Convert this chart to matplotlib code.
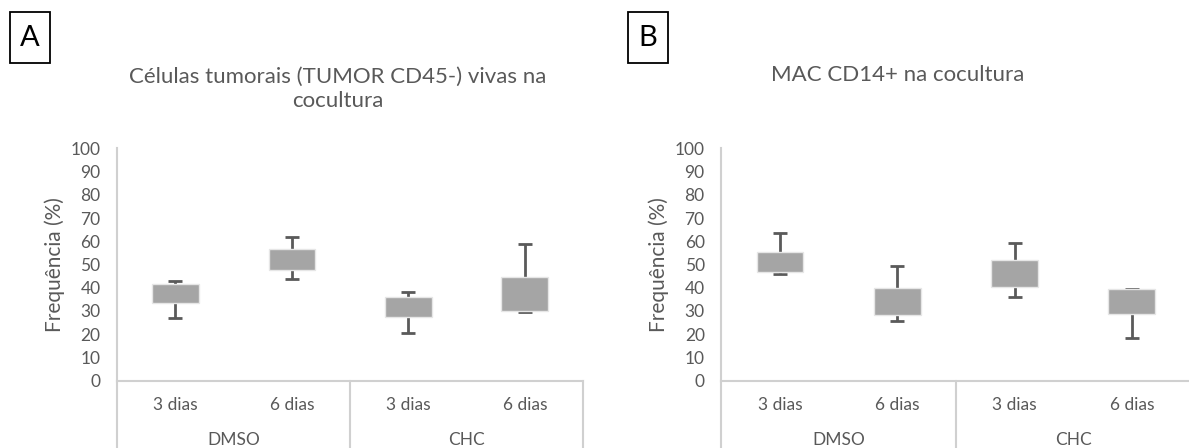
import matplotlib.pyplot as plt
from matplotlib.patches import Rectangle
from matplotlib.transforms import blended_transform_factory
import numpy as np

plt.rcParams['font.family'] = ['Lato', 'DejaVu Sans']

days = ["3 dias", "6 dias", "3 dias", "6 dias"]
groups = ["DMSO", "CHC"]

# panel A - tumour cells (CD45-)
a_q1 = [33.4, 47.6, 27.3, 30.1]
a_q3 = [41.5, 56.5, 35.9, 44.5]
a_min = [27.1, 43.6, 20.4, 29.6]
a_max = [42.8, 61.7, 38.2, 58.7]

# panel B - macrophages CD14+
b_q1 = [46.6, 28.1, 40.3, 28.6]
b_q3 = [55.3, 39.8, 51.9, 39.3]
b_min = [46.0, 25.8, 36.0, 18.2]
b_max = [63.4, 49.4, 59.1, 39.5]

W, H = 1189, 448
TXT = '#595959'
LINE = '#D0D0D0'

fig = plt.figure(figsize=(W / 100, H / 100), dpi=100)


def panel(left_px, width_px, q1, q3, lo, hi, title, title_x, title_y, letter, letter_x):
    ax = fig.add_axes([left_px / W, (H - 380.7) / H, width_px / W, 232.4 / H])
    x = np.arange(len(days))
    q1 = np.array(q1); q3 = np.array(q3)
    lo = np.array(lo); hi = np.array(hi)
    mid = (lo + hi) / 2
    # whiskers sit behind the box so only the parts outside it show
    ax.errorbar(x, mid, yerr=[mid - lo, hi - mid], fmt='none', ecolor='#5a5a5a',
                elinewidth=2, capsize=5, capthick=2, zorder=1)
    ax.bar(x, q3 - q1, bottom=q1, width=0.4, color='#A5A5A5',
           edgecolor='#E6E6E6', linewidth=1, zorder=2)
    ax.set_xlim(-0.5, len(days) - 0.5)
    ax.set_ylim(0, 100)
    ax.set_yticks(np.arange(0, 101, 10))
    ax.tick_params(axis='y', length=0, pad=12, labelsize=12.5, labelcolor=TXT)
    ax.set_xticks([])
    for s in ['top', 'right']:
        ax.spines[s].set_visible(False)
    for s in ['left', 'bottom']:
        ax.spines[s].set_color(LINE)
        ax.spines[s].set_linewidth(1.5)
    ax.set_ylabel("Frequência (%)", fontsize=15, color=TXT, labelpad=4)

    # two-level category axis: day labels, then treatment groups with dividers
    tr = blended_transform_factory(ax.transData, ax.transAxes)
    for xs in [-0.5, 1.5, 3.5]:
        ax.plot([xs, xs], [0, -0.4], transform=tr, color=LINE, lw=1.5, clip_on=False)
    for i, d in enumerate(days):
        ax.text(i, -0.105, d, transform=tr, ha='center', va='center', fontsize=12.5, color=TXT)
    for j, g in enumerate(groups):
        ax.text(2 * j + 0.5, -0.255, g, transform=tr, ha='center', va='center', fontsize=12.5, color=TXT)

    fig.text(title_x / W, 1 - title_y / H, title, ha='center', va='center',
             fontsize=16, color=TXT, linespacing=1.3)

    bx, by, bw, bh = letter_x, 12, 40, 51
    fig.add_artist(Rectangle((bx / W, 1 - (by + bh) / H), bw / W, bh / H,
                             transform=fig.transFigure, fill=False, edgecolor='black', lw=1.3))
    fig.text((bx + bw / 2) / W, 1 - (by + bh / 2) / H, letter, ha='center', va='center',
             fontsize=21, color='black')
    return ax


panel(117.2, 465.8, a_q1, a_q3, a_min, a_max,
      "Células tumorais (TUMOR CD45-) vivas na\ncocultura", 338, 89, "A", 10)
panel(721.4, 469.0, b_q1, b_q3, b_min, b_max,
      "MAC CD14+ na cocultura", 898, 75, "B", 628)

fig.savefig("out.png", dpi=100)
